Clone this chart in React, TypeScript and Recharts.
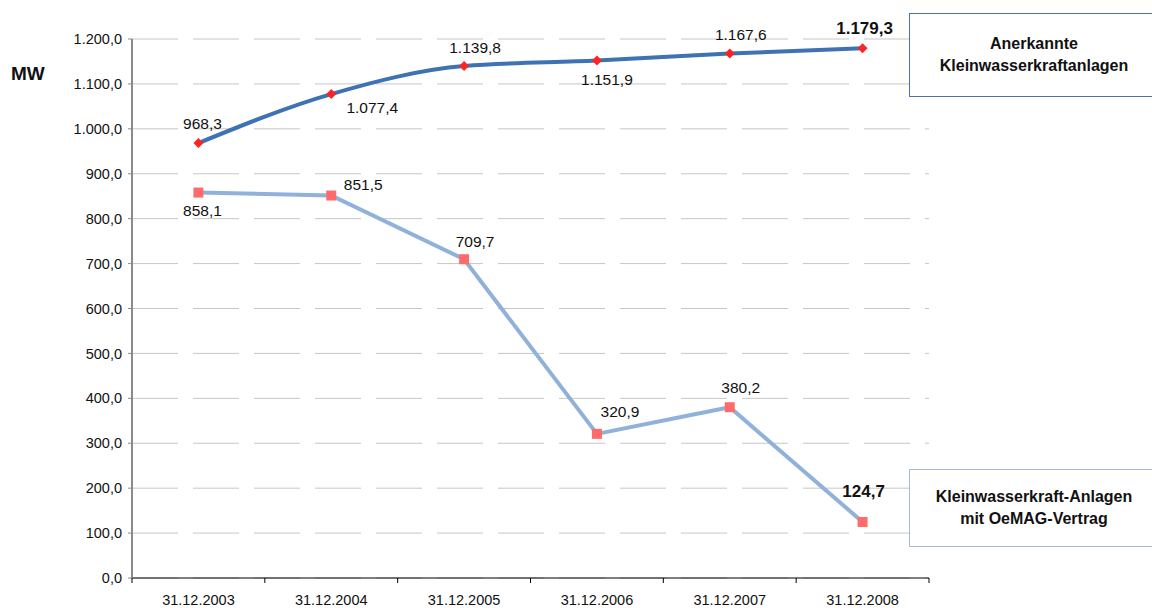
import { LineChart, Line, XAxis, YAxis, CartesianGrid, LabelList } from 'recharts';

const dates = ['31.12.2003', '31.12.2004', '31.12.2005', '31.12.2006', '31.12.2007', '31.12.2008'];
const anerkannt = [968.3, 1077.4, 1139.8, 1151.9, 1167.6, 1179.3];
const oemag = [858.1, 851.5, 709.7, 320.9, 380.2, 124.7];
const yTicks = [0, 100, 200, 300, 400, 500, 600, 700, 800, 900, 1000, 1100, 1200];

// label offsets (dx, dy from the point) – placement only
const anerkanntOffsets = [[4, -20], [41, 13], [11, -19], [10, 19], [11, -19], [2, -20]];
const oemagOffsets = [[4, 18], [32, -11], [11, -18], [23, -22], [11, -20], [1, -30]];

const W = 1152;
const H = 608;
const LEFT = 132;
const RIGHT = 929;
const TOP = 39;
const BOTTOM = 578;
const FONT = '"Liberation Sans", Arial, Helvetica, sans-serif';

const chartData = dates.map((d, i) => ({ date: d, a: anerkannt[i], b: oemag[i] }));

function fmt(v: number) {
  const [int, dec] = v.toFixed(1).split('.');
  return int.replace(/\B(?=(\d{3})+(?!\d))/g, '.') + ',' + dec;
}

const band = (RIGHT - LEFT) / dates.length;

function XTick(props: any) {
  const { x, payload, index } = props;
  return (
    <g>
      <line x1={x - band / 2} x2={x - band / 2} y1={BOTTOM} y2={BOTTOM + 5} stroke="#000" />
      {index === dates.length - 1 && (
        <line x1={x + band / 2} x2={x + band / 2} y1={BOTTOM} y2={BOTTOM + 5} stroke="#000" />
      )}
      <text x={x} y={BOTTOM + 27} textAnchor="middle" fontSize={14.5} fill="#111" fontFamily={FONT}>
        {payload.value}
      </text>
    </g>
  );
}

function makeLabel(offsets: number[][], values: number[]) {
  return (props: any) => {
    const { x, y, index } = props;
    const last = index === values.length - 1;
    const [dx, dy] = offsets[index];
    return (
      <text
        x={x + dx}
        y={y + dy}
        textAnchor="middle"
        dominantBaseline="central"
        fontSize={last ? 17 : 15.5}
        fontWeight={last ? 'bold' : 'normal'}
        fill="#111"
        fontFamily={FONT}
      >
        {fmt(values[index])}
      </text>
    );
  };
}

function Diamond(props: any) {
  const { cx, cy } = props;
  const r = 5;
  return <path d={`M${cx},${cy - r}L${cx + r},${cy}L${cx},${cy + r}L${cx - r},${cy}Z`} fill="#ff2424" />;
}

function Square(props: any) {
  const { cx, cy } = props;
  const s = 10;
  return <rect x={cx - s / 2} y={cy - s / 2} width={s} height={s} fill="#ff6b6b" />;
}

const boxText: React.CSSProperties = {
  position: 'absolute',
  left: 909,
  width: 250,
  boxSizing: 'border-box',
  background: '#fff',
  display: 'flex',
  alignItems: 'center',
  justifyContent: 'center',
  textAlign: 'center',
  fontFamily: FONT,
  fontWeight: 'bold',
  fontSize: 16,
  lineHeight: '22px',
  color: '#111',
};

export default function App() {
  return (
    <div style={{ position: 'absolute', left: 0, top: 0, width: W, height: H, overflow: 'hidden', background: '#fff' }}>
      <LineChart width={W} height={H} data={chartData} margin={{ top: TOP, right: W - RIGHT, bottom: 0, left: 0 }}>
        <CartesianGrid vertical={false} stroke="#c6c6c6" strokeDasharray="46 15" />
        <XAxis
          dataKey="date"
          height={H - BOTTOM}
          tick={<XTick />}
          tickLine={false}
          axisLine={{ stroke: '#000' }}
          interval={0}
          padding={{ left: band / 2, right: band / 2 }}
        />
        <YAxis
          width={LEFT}
          domain={[0, 1200]}
          ticks={yTicks}
          tickFormatter={fmt}
          tickSize={4}
          tickMargin={6}
          tick={{ fontSize: 14.5, fill: '#111', fontFamily: FONT }}
          axisLine={{ stroke: '#8a8a8a', strokeWidth: 2 }}
          tickLine={{ stroke: '#8a8a8a' }}
        />
        <Line
          type="linear"
          dataKey="b"
          stroke="#8fb1da"
          strokeWidth={4}
          dot={<Square />}
          isAnimationActive={false}
        >
          <LabelList dataKey="b" content={makeLabel(oemagOffsets, oemag)} />
        </Line>
        <Line
          type="monotone"
          dataKey="a"
          stroke="#3f72b3"
          strokeWidth={4}
          dot={<Diamond />}
          isAnimationActive={false}
        >
          <LabelList dataKey="a" content={makeLabel(anerkanntOffsets, anerkannt)} />
        </Line>
      </LineChart>
      <div style={{ position: 'absolute', left: 11, top: 63, fontFamily: FONT, fontWeight: 'bold', fontSize: 19, color: '#111' }}>
        MW
      </div>
      <div style={{ ...boxText, top: 13, height: 84, border: '1px solid #4b6fa6' }}>
        Anerkannte
        <br />
        Kleinwasserkraftanlagen
      </div>
      <div style={{ ...boxText, top: 469, height: 78, border: '1px solid #a3b9d8' }}>
        Kleinwasserkraft-Anlagen
        <br />
        mit OeMAG-Vertrag
      </div>
    </div>
  );
}
